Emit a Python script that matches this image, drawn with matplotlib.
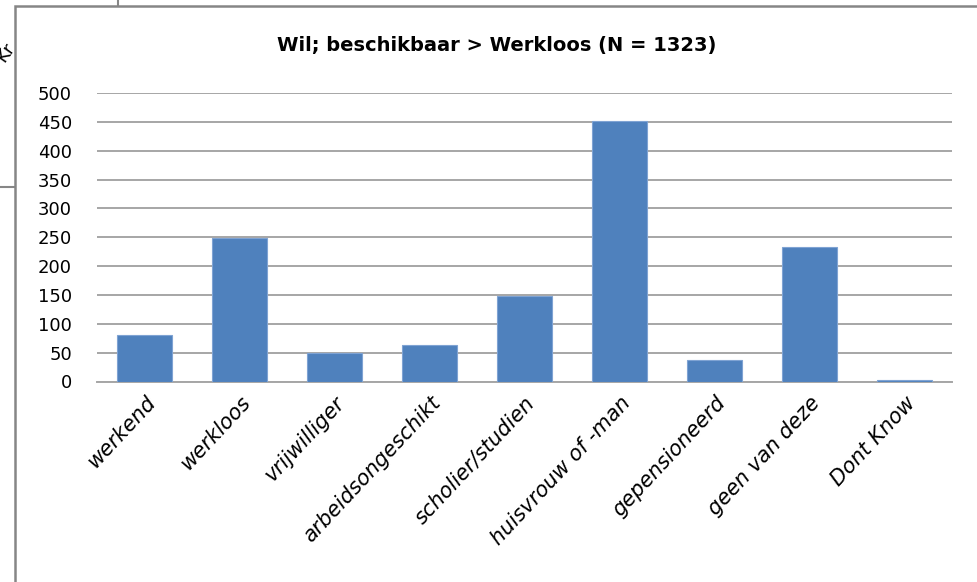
import matplotlib
matplotlib.use('Agg')
import matplotlib.pyplot as plt
from matplotlib.patches import Rectangle

categories = ['werkend', 'werkloos', 'vrijwilliger', 'arbeidsongeschikt', 'scholier/studien',
              'huisvrouw of -man', 'gepensioneerd', 'geen van deze', 'Dont Know']
counts = [80, 249, 49, 63, 149, 451, 38, 233, 3]
yticks = [0, 50, 100, 150, 200, 250, 300, 350, 400, 450, 500]
title = 'Wil; beschikbaar > Werkloos (N = 1323)'

plt.rcParams['font.family'] = ['DejaVu Sans']

fig = plt.figure(figsize=(9.78, 5.82), dpi=100)

# background (pixel coordinates) with the chart frame and leftovers outside it
bg = fig.add_axes([0, 0, 1, 1])
bg.set_xlim(0, 978)
bg.set_ylim(582, 0)
bg.axis('off')
bg.text(6, 52, 'Kr', rotation=55, fontsize=13, ha='center', va='center', zorder=1)
bg.plot([118, 118], [0, 6], color='#868686', lw=1.5, zorder=1)
bg.plot([0, 15], [187, 187], color='#868686', lw=1.5, zorder=1)
bg.add_patch(Rectangle((15, 6), 1000, 600, facecolor='white', edgecolor='#868686', lw=1.8, zorder=2))

ax = fig.add_axes([97 / 978, 1 - 381.5 / 582, (952 - 97) / 978, (381.5 - 93) / 582])
ax.set_facecolor('none')
x = range(len(categories))
ax.bar(x, counts, width=0.58, color='#4F81BD', edgecolor='#7FA3D3', linewidth=0.8, zorder=3)
ax.set_xlim(-0.5, len(categories) - 0.5)
ax.set_ylim(0, 500)
ax.set_yticks(yticks)
ax.set_yticklabels([str(v) for v in yticks], fontsize=13)
ax.yaxis.grid(True, color='#A6A6A6', linewidth=1.4, zorder=0)
ax.set_axisbelow(True)
ax.tick_params(axis='y', length=0, pad=18)
ax.tick_params(axis='x', length=0, pad=8)
ax.set_xticks(list(x))
ax.set_xticklabels(categories, rotation=47, ha='right', rotation_mode='anchor',
                   fontsize=15, fontstyle='italic')
for s in ['top', 'right', 'left']:
    ax.spines[s].set_visible(False)
ax.spines['bottom'].set_color('#A6A6A6')
ax.spines['bottom'].set_linewidth(1.4)

fig.text(497 / 978, 1 - 46 / 582, title, ha='center', va='center', fontsize=14, fontweight='bold')

fig.savefig('out.png', dpi=100)
